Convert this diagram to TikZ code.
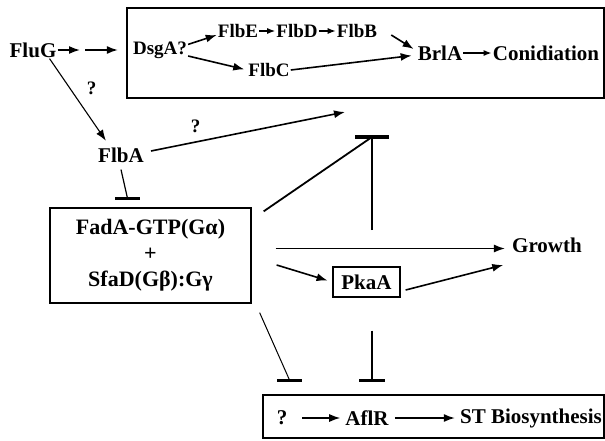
\documentclass[tikz,border=0pt]{standalone}
\usepackage{fontspec}
\setmainfont{Liberation Serif}
\usetikzlibrary{arrows.meta,positioning}

\begin{document}
\begin{tikzpicture}[
    x=1pt, y=-1pt,
    node distance=60pt,
    >={Latex[length=11pt,width=8pt]},
    font=\fontsize{21}{26}\selectfont\bfseries,
    gene/.style={
		inner sep=1pt
	},
	small/.style={
		inner sep=1pt,
		font=\fontsize{19}{22}\selectfont\bfseries
	},
	panel/.style={
		rectangle,
		draw=black,
		line width=1.3pt
	},
	act/.style={
		->,
		line width=1.6pt
	},
	tiny/.style={
		-{Latex[length=8pt,width=6pt]},
		line width=1.3pt
	},
	link/.style={
		line width=1.2pt
	},
	bar/.style={
		line width=3pt
	}
  ]

\useasboundingbox (0,0) rectangle (605,440);

% // The conidiation box
\node [panel, minimum width=477pt, minimum height=90pt] (conBox) at (365.5,53) {};

\node [gene] (fluG) at (33,50) {FluG};
\coordinate [right of=fluG, xshift=-11pt] (fluGmid);
\node [small, right of=fluG, xshift=67pt] (dsgA) {DsgA?};
\node [small, right of=dsgA, xshift=18pt, yshift=19pt] (flbE) {FlbE};
\node [small, right of=flbE, xshift=-1pt] (flbD) {FlbD};
\node [small, right of=flbD] (flbB) {FlbB};
\node [small, right of=dsgA, xshift=49pt, yshift=-20pt] (flbC) {FlbC};
\node [gene, right of=flbC, xshift=111pt, yshift=17pt] (brlA) {BrlA};
\node [gene, right of=brlA, xshift=46pt] (conid) {Conidiation};

 \draw [act, shorten >=2pt] (fluG) -- (fluGmid);
 \draw [act, shorten <=3pt, shorten >=14pt] (fluGmid) -- (dsgA);
 \draw [act] ([yshift=-4pt]dsgA.north east) -- ([yshift=-4pt]flbE.west);
 \draw [act, shorten >=3pt] ([yshift=-6pt]dsgA.east) -- (flbC.west);
 \draw [tiny] (flbE) -- (flbD);
 \draw [tiny] (flbD) -- (flbB);
 \draw [act, shorten >=5pt] (flbC.east) -- ([yshift=-2pt]brlA.west);
 \draw [act] ([xshift=13pt,yshift=-4pt]flbB.east) -- ([xshift=-3pt,yshift=4pt]brlA.west);
 \draw [tiny, line width=1.5pt] (brlA) -- (conid);

% // FlbA branch
\node [gene, below of=fluG, xshift=88pt, yshift=-45pt] (flbA) {FlbA};
\coordinate (flbAend) at (345,112);

 \draw [->, line width=1.1pt, shorten >=2pt] ([xshift=-8pt]fluG.south east) -- node [small, auto, pos=0.52, inner sep=7pt] {?} ([xshift=10pt,yshift=4pt]flbA.north west);
 \draw [act] ([xshift=6pt,yshift=4pt]flbA.east) -- node [small, auto, pos=0.29, inner sep=6pt] {?} (flbAend);

% // G protein complex
\node [panel, below of=flbA, xshift=29.5pt, yshift=-40.5pt,
 minimum width=201pt, minimum height=95pt, align=center,
 font=\fontsize{22}{26}\selectfont\bfseries] (gProt)
 {FadA-GTP(Gα)\\+\\SfaD(Gβ):Gγ};

\coordinate (flbAbar) at ([xshift=-23pt,yshift=9pt]gProt.north);
 \draw [link] ([yshift=-6pt]flbA.south) -- (flbAbar);
 \draw [bar, line width=2.5pt] ([xshift=-12.5pt]flbAbar) -- ([xshift=12.5pt]flbAbar);

% // Growth and PkaA
\node [gene] (growth) at (547,245) {Growth};
\node [panel, gene, minimum width=67pt, minimum height=30pt] (pkaA) at (366.5,282) {PkaA};

\coordinate (tBar) at (372,137);
\coordinate (tStem) at (372,230);

 \draw [line width=1.8pt] ([xshift=12pt,yshift=-4pt]gProt.north east) -- (tBar);
 \draw [line width=1.3pt] (tStem) -- (tBar);
 \draw [bar, line width=4pt] ([xshift=-17pt]tBar) -- ([xshift=17pt]tBar);

 \draw [act, shorten >=6pt] ([xshift=24pt,yshift=7pt]gProt.east) -- ([yshift=7pt]gProt.east -| growth.west);
 \draw [act, shorten >=5pt] ([xshift=25pt,yshift=-9.5pt]gProt.east) -- (pkaA.west);
 \draw [act, shorten >=8pt] ([xshift=5pt,yshift=-8pt]pkaA.east) -- ([yshift=-18pt]growth.west);

% // Sterigmatocystin box
\node [panel, minimum width=341pt, minimum height=43pt] (stBox) at (433.5,416.5) {};
\node [gene] (qMark) at (282,418) {?};
\node [gene, right of=qMark, xshift=25pt] (aflR) {AflR};
\node [gene, right of=aflR, xshift=104pt] (stBio) {ST Biosynthesis};

 \draw [act, line width=1.3pt, shorten <=14pt, shorten >=4pt] (qMark) -- (aflR);
 \draw [act, shorten <=5pt, shorten >=4pt] (aflR) -- (stBio);

\coordinate (pkaBar) at (372,380);
\coordinate (gBar) at (289.5,380);

 \draw [line width=1.8pt] ([xshift=5.5pt,yshift=-33pt]pkaA.south) -- (pkaBar);
 \draw [bar] ([xshift=-13pt]pkaBar) -- ([xshift=13pt]pkaBar);
 \draw [link, line width=1pt] ([xshift=8pt,yshift=-9pt]gProt.south east) -- (gBar);
 \draw [bar] ([xshift=-12.5pt]gBar) -- ([xshift=12.5pt]gBar);

\end{tikzpicture}
\end{document}
